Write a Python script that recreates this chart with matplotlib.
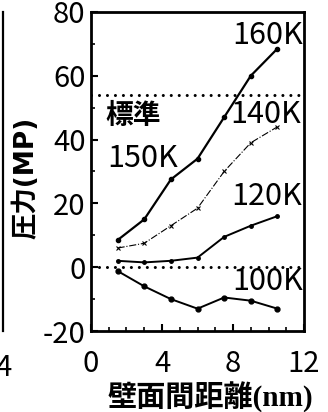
import matplotlib
matplotlib.use('Agg')
import matplotlib.pyplot as plt
from matplotlib.ticker import MultipleLocator

plt.rcParams['font.family'] = ['Noto Sans CJK JP', 'DejaVu Sans']
plt.rcParams['axes.unicode_minus'] = False

# wall distance (nm)
dist = [1.5, 3.0, 4.5, 6.0, 7.5, 9.0, 10.5]
# pressure (MP) per temperature
p_top = [8.5, 15, 27.5, 34, 47, 60, 68.5]
p_140 = [6, 7.5, 13, 18.5, 30, 39, 44]
p_120 = [2, 1.5, 2, 3, 9.5, 13, 16]
p_100 = [-1.2, -6, -10, -13, -9.5, -10.5, -13]
standard = 54

labels = ['160K', '140K', '150K', '120K', '100K']

fig = plt.figure(figsize=(3.28, 4.12), dpi=100)
ax = fig.add_axes([0.2774, 0.1966, 0.6496, 0.7744])

# neighbouring panel, cut off on the left
ax0 = fig.add_axes([-0.5, 0.1966, 0.5095, 0.7744])
for s in ['top', 'left', 'bottom']:
    ax0.spines[s].set_visible(False)
ax0.spines['right'].set_linewidth(1.6)
ax0.set_xlim(-8, 4)
ax0.set_xticks([4])
ax0.set_yticks([])
ax0.tick_params(axis='x', length=0, labelsize=21, pad=16)

dots = (0, (0.01, 2.6))
ax.axhline(0, color='black', lw=2.2, ls=dots, dash_capstyle='round')
ax.axhline(standard, color='black', lw=2.2, ls=dots, dash_capstyle='round')

ax.plot(dist, p_top, color='black', lw=1.6, marker='o', ms=3)
ax.plot(dist, p_140, color='black', lw=0.8, ls='-.', marker='x', ms=3.5, mew=0.8)
ax.plot(dist, p_120, color='black', lw=1.4, marker='o', ms=2.5)
ax.plot(dist, p_100, color='black', lw=1.4, marker='o', ms=3.5)

ax.text(11.95, 72.5, labels[0], ha='right', va='center', fontsize=22)
ax.text(11.85, 48, labels[1], ha='right', va='center', fontsize=22)
ax.text(0.9, 34, labels[2], ha='left', va='center', fontsize=22)
ax.text(11.9, 22, labels[3], ha='right', va='center', fontsize=22)
ax.text(11.95, -4.6, labels[4], ha='right', va='center', fontsize=22)
ax.text(0.8, 47.5, '標準', ha='left', va='center', fontsize=20, fontweight='bold')

ax.set_xlim(0, 12)
ax.set_ylim(-20, 80)
ax.set_xticks([0, 4, 8, 12])
ax.set_yticks([-20, 0, 20, 40, 60, 80])
ax.xaxis.set_minor_locator(MultipleLocator(1))
ax.yaxis.set_minor_locator(MultipleLocator(10))
ax.tick_params(direction='in', length=5, width=1.5, labelsize=21, pad=4)
ax.tick_params(which='minor', direction='in', length=3, width=1.2)
ax.tick_params(axis='x', pad=13)
for s in ax.spines.values():
    s.set_linewidth(2)

ax.set_xlabel('壁面間距離(nm)', fontsize=21, fontweight='bold',
              family=['Liberation Serif', 'Noto Sans CJK JP'])
ax.xaxis.set_label_coords(0.56, -0.16)
ax.set_ylabel('圧力(MP)', fontsize=19, fontweight='bold',
              family=['DejaVu Sans', 'Noto Sans CJK JP'])
ax.yaxis.set_label_coords(-0.24, 0.48)

fig.savefig('out.png', dpi=100)
